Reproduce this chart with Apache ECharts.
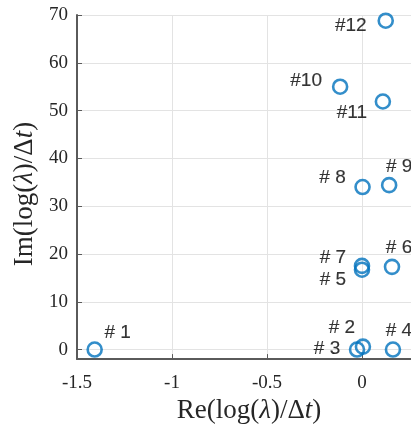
<!DOCTYPE html>
<html>
<head>
<meta charset="utf-8">
<script src="https://cdn.jsdelivr.net/npm/echarts@6/dist/echarts.min.js"></script>
<style>html,body{margin:0;padding:0;background:#fff;}#c{width:411px;height:429px;}</style>
</head>
<body>
<div id="c"></div>
<script>
// Data
var names = ['# 1','# 2','# 3','# 4','# 5','# 6','# 7','# 8','# 9','#10','#11','#12'];
var reVals = [-1.407, 0.005, -0.026, 0.163, 0.0, 0.158, 0.0, 0.003, 0.143, -0.115, 0.11, 0.125];
var imVals = [0, 0.6, 0, 0, 16.7, 17.3, 17.5, 34.0, 34.4, 55.0, 51.9, 68.8];
var xTicks = [-1.5, -1, -0.5, 0];
var yTicks = [0, 10, 20, 30, 40, 50, 60, 70];

// label layout (pixel offsets from the marker centre)
var labelOffsets = {
  '# 1': [23, -17], '# 2': [-21, -19], '# 3': [-30, -1], '# 4': [6, -19],
  '# 5': [-29, 10], '# 6': [7, -19], '# 7': [-29, -8], '# 8': [-30, -9],
  '# 9': [10, -18], '#10': [-34, -6], '#11': [-31, 11], '#12': [-35, 5]
};

var pts = names.map(function (n, i) {
  return {
    name: n,
    value: [reVals[i], imVals[i]],
    label: { show: true, position: 'inside', offset: labelOffsets[n], formatter: n }
  };
});

var serif = 'Liberation Serif, Times New Roman, serif';
var axisColor = '#5a5a5a';
var textColor = '#262626';
function nameRich() {
  return {
    a: { fontFamily: serif, fontSize: 27, color: textColor },
    i: { fontFamily: serif, fontSize: 27, fontStyle: 'italic', color: textColor }
  };
}
var chart = echarts.init(document.getElementById('c'), null, { renderer: 'canvas' });
chart.setOption({
  animation: false,
  backgroundColor: '#fff',
  grid: { left: 77, top: 15, right: 0, height: 354, containLabel: false },
  xAxis: {
    type: 'value', min: -1.5, max: 0.258, interval: 0.5,
    name: '{a|Re(log(}{i|λ}{a|)/Δ}{i|t}{a|)}',
    nameLocation: 'middle', nameGap: 29,
    nameTextStyle: { padding: [0, 0, 0, 10], rich: nameRich() },
    axisLine: { show: true, onZero: false, lineStyle: { color: axisColor, width: 2 } },
    axisTick: { show: true, inside: true, length: 5, lineStyle: { color: axisColor, width: 1 } },
    axisLabel: {
      fontFamily: serif, fontSize: 19, color: textColor, margin: 14, showMaxLabel: false,
      formatter: function (v) { return xTicks.indexOf(v) >= 0 ? String(v) : ''; }
    },
    splitLine: { show: true, lineStyle: { color: '#e3e3e3', width: 1 } }
  },
  yAxis: {
    type: 'value', min: -2, max: 70, splitNumber: 7,
    name: '{a|Im(log(}{i|λ}{a|)/Δ}{i|t}{a|)}',
    nameLocation: 'middle', nameGap: 36, nameRotate: 90,
    nameTextStyle: { padding: [0, 14, 0, 0], rich: nameRich() },
    axisLine: { show: true, onZero: false, lineStyle: { color: axisColor, width: 2 } },
    axisTick: { show: true, inside: true, length: 5, lineStyle: { color: axisColor, width: 1 } },
    axisLabel: {
      fontFamily: serif, fontSize: 19, color: textColor, margin: 9, showMinLabel: false,
      formatter: function (v) { return yTicks.indexOf(v) >= 0 ? String(v) : ''; }
    },
    splitLine: { show: true, lineStyle: { color: '#e3e3e3', width: 1 } }
  },
  series: [{
    type: 'scatter',
    data: pts,
    symbol: 'circle',
    symbolSize: 14,
    itemStyle: { color: 'rgba(0,0,0,0)', borderColor: '#0072BD', borderWidth: 2.6 },
    label: {
      fontFamily: 'Liberation Sans, Arial, sans-serif', fontSize: 19, color: '#000',
      textBorderColor: '#000', textBorderWidth: 0.15
    },
    emphasis: { disabled: true }
  }]
});
</script>
</body>
</html>
